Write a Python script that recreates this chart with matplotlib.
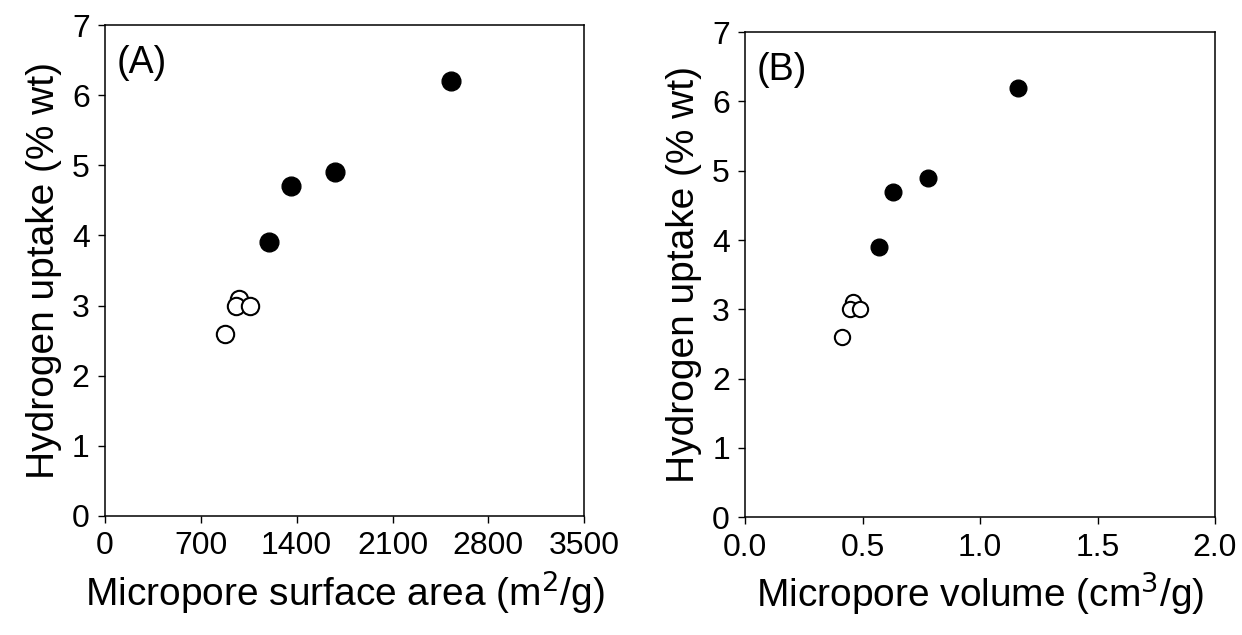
import matplotlib
matplotlib.use("Agg")
import matplotlib.pyplot as plt

plt.rcParams['font.family'] = ['Liberation Sans', 'DejaVu Sans']

# panel A: micropore surface area (m2/g) vs hydrogen uptake (% wt)
area_filled = [2530, 1680, 1360, 1200]
uptake_filled = [6.2, 4.9, 4.7, 3.9]
area_open = [980, 955, 1060, 875]
uptake_open = [3.1, 3.0, 3.0, 2.6]

# panel B: micropore volume (cm3/g) vs hydrogen uptake (% wt)
vol_filled = [1.16, 0.78, 0.63, 0.57]
vol_open = [0.46, 0.445, 0.49, 0.41]

area_ticks = [0, 700, 1400, 2100, 2800, 3500]
vol_ticks = [0.0, 0.5, 1.0, 1.5, 2.0]
uptake_ticks = [0, 1, 2, 3, 4, 5, 6, 7]

fig = plt.figure(figsize=(12.42, 6.35), dpi=100)
axA = fig.add_axes([0.0845, 0.1875, 0.3859, 0.773])
axB = fig.add_axes([0.6, 0.1854, 0.3783, 0.764])


def style(ax, xticks, xlabels, xlim):
    ax.set_xlim(*xlim)
    ax.set_ylim(0, 7)
    ax.set_xticks(xticks)
    ax.set_xticklabels(xlabels)
    ax.set_yticks(uptake_ticks)
    ax.tick_params(direction='out', length=5, width=1, labelsize=23, pad=6)
    for s in ax.spines.values():
        s.set_linewidth(1.1)
    ax.set_ylabel('Hydrogen uptake (% wt)', fontsize=28, labelpad=7)


# panel A
axA.plot(area_filled, uptake_filled, 'o', color='black', markersize=13.5, clip_on=False)
axA.plot(area_open, uptake_open, 'o', markerfacecolor='white', markeredgecolor='black',
         markeredgewidth=1.5, markersize=12.5, clip_on=False)
style(axA, area_ticks, [str(t) for t in area_ticks], (0, 3500))
axA.set_xlabel('Micropore surface area (m$^2$/g)', fontsize=28, labelpad=5)
axA.text(0.025, 0.96, '(A)', transform=axA.transAxes, fontsize=27, va='top', ha='left')

# panel B
axB.plot(vol_filled, uptake_filled, 'o', color='black', markersize=12, clip_on=False)
axB.plot(vol_open, uptake_open, 'o', markerfacecolor='white', markeredgecolor='black',
         markeredgewidth=1.5, markersize=11, clip_on=False)
style(axB, vol_ticks, ['%.1f' % t for t in vol_ticks], (0, 2.0))
axB.set_xlabel('Micropore volume (cm$^3$/g)', fontsize=28, labelpad=5)
axB.text(0.025, 0.96, '(B)', transform=axB.transAxes, fontsize=27, va='top', ha='left')

fig.savefig('out.png', dpi=100)
